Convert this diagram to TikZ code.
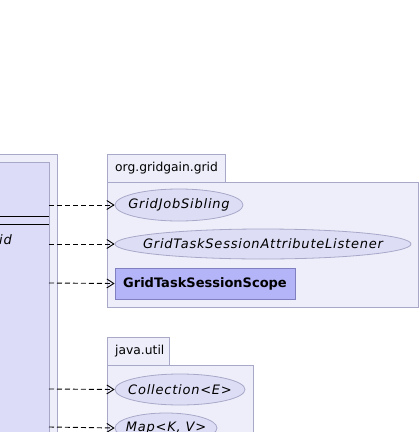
\documentclass[tikz,border=0pt]{standalone}
\usepackage{fontspec}
\setmainfont{DejaVu Sans}
\newfontfamily\ifacefont[LetterSpace=6]{DejaVu Sans Oblique}
\usetikzlibrary{arrows.meta,shapes.geometric}
\definecolor{pkgfill}{HTML}{EEEEFB}
\definecolor{pkgline}{HTML}{A8A8C8}
\definecolor{clsfill}{HTML}{DCDCF8}
\definecolor{ellfill}{HTML}{DDDDF5}
\definecolor{boxfill}{HTML}{B4B4F8}
\definecolor{boxline}{HTML}{8080C0}
\tikzset{
  pkg/.style={draw=pkgline,fill=pkgfill,line width=0.8pt},
  iface/.style={ellipse,draw=pkgline,fill=ellfill,line width=0.8pt,inner sep=0pt,font=\fontsize{13}{15}\ifacefont},
  cls/.style={draw=boxline,fill=boxfill,line width=0.8pt,inner sep=0pt,font=\fontsize{13}{15}\selectfont\bfseries},
  dep/.style={dash pattern=on 5pt off 3pt,line width=0.9pt,-{Straight Barb[length=7pt,width=9pt]}},
  lbl/.style={font=\fontsize{12.3}{15}\selectfont,inner sep=0pt}
}
\newcommand{\zb}[1]{\makebox[0pt]{#1}}
\begin{document}
\begin{tikzpicture}[x=1pt,y=-1pt]
\useasboundingbox (0,0) rectangle (420,432);
% left package
\path[pkg] (-5,154) rectangle (57,440);
\path[draw=pkgline,fill=clsfill,line width=0.8pt] (-5,162) rectangle (49,440);
\draw[line width=0.8pt] (-5,216) -- (49,216);
\draw[line width=0.8pt] (-5,224) -- (49,224);
\node[lbl,anchor=west,font=\fontsize{13}{15}\ifacefont] at (-1,240) {id};
\coordinate (s1) at (49,205);
\coordinate (s2) at (49,244);
\coordinate (s3) at (49,283);
\coordinate (s4) at (49,389);
\coordinate (s5) at (49,427);
% org.gridgain.grid
\path[pkg] (107,154) rectangle (225,182);
\path[pkg] (107,182) rectangle (418,307);
\node[lbl,anchor=west] at (115,168) {org.gridgain.grid};
\node[iface,minimum width=128pt,minimum height=32pt] (a) at (179,205) {\zb{GridJobSibling}};
\node[iface,minimum width=296pt,minimum height=30pt] (b) at (263,244) {\zb{GridTaskSessionAttributeListener}};
\node[cls,minimum width=180pt,minimum height=31pt] (c) at (205,283.5) {\zb{GridTaskSessionScope}};
% java.util
\path[pkg] (107,337) rectangle (169,365);
\path[pkg] (107,365) rectangle (253,440);
\node[lbl,anchor=west] at (115,351) {java.util};
\node[iface,minimum width=130pt,minimum height=31pt] (d) at (180,389.5) {\zb{Collection<E>}};
\node[iface,minimum width=102pt,minimum height=30pt] (e) at (166,428) {\zb{Map<K, V>}};
% dependencies
\draw[dep] (s1) -- (a.west);
\draw[dep] (s2) -- (b.west);
\draw[dep] (s3) -- (c.west);
\draw[dep] (s4) -- (d.west);
\draw[dep] (s5) -- (e.west);
\end{tikzpicture}
\end{document}
